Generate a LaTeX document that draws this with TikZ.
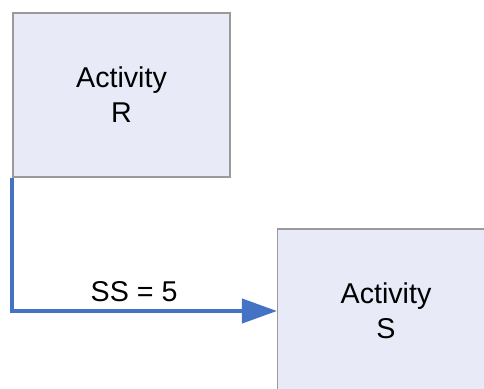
\documentclass[tikz,border=0pt]{standalone}
\usepackage{fontspec}
\setmainfont{Liberation Sans}
\usetikzlibrary{arrows.meta}

\definecolor{boxfill}{HTML}{E8EBF7}
\definecolor{boxline}{HTML}{9A9A9A}
\definecolor{linkblue}{HTML}{4472C4}

\begin{document}
\begin{tikzpicture}[
        box/.style={
            rectangle,
            draw=boxline, line width=0.6pt,
            fill=boxfill,
            minimum width=4.34cm,
            minimum height=3.28cm,
            inner sep=0pt,
            align=center,
            font=\fontsize{16.3}{19.9}\selectfont},
        arrow/.style={
            draw=linkblue,
            line width=2.3pt,
            -{Triangle[length=0.7cm,width=0.48cm]}}
        ]

        \useasboundingbox (0,0) rectangle (9.68,-7.76);
        \clip (0,0) rectangle (9.68,-7.76);

        \node (activityR) [box] at (2.43,-1.9) {Activity\\R};
        \node (activityS) [box] at (7.72,-6.22) {Activity\\S};

        % start-to-start link
        \draw [arrow] (activityR.south west) |- (activityS.west)
            node [pos=0.73, above=1pt, text=black,
                  font=\fontsize{16.3}{19.9}\selectfont] {SS = 5};

\end{tikzpicture}
\end{document}
